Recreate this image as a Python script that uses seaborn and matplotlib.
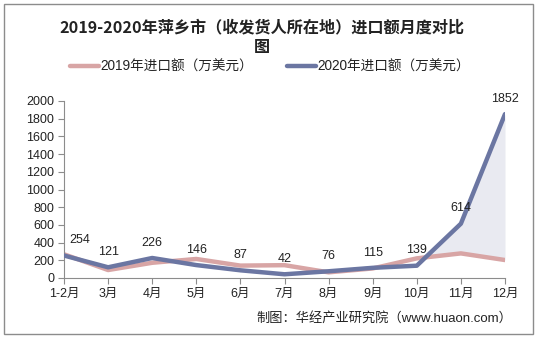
import matplotlib
matplotlib.use("Agg")
import matplotlib.pyplot as plt
import seaborn as sns
import pandas as pd
import numpy as np
from matplotlib.patches import Rectangle
from matplotlib.lines import Line2D

months = ["1-2月", "3月", "4月", "5月", "6月", "7月", "8月", "9月", "10月", "11月", "12月"]
imports_2019 = [268, 90, 172, 215, 140, 145, 64, 108, 222, 278, 203]
imports_2020 = [254, 121, 226, 146, 87, 42, 76, 115, 139, 614, 1852]
yticks = [0, 200, 400, 600, 800, 1000, 1200, 1400, 1600, 1800, 2000]

title = "2019-2020年萍乡市（收发货人所在地）进口额月度对比\n图"
label_2019 = "2019年进口额（万美元）"
label_2020 = "2020年进口额（万美元）"
source = "制图：华经产业研究院（www.huaon.com）"

sns.set_theme(style="white")
plt.rcParams["font.family"] = ["Liberation Sans", "Noto Sans CJK SC", "DejaVu Sans"]

c19 = "#D8A5A5"
c20 = "#6B76A2"

df = pd.DataFrame({
    "idx": list(range(len(months))) * 2,
    "value": imports_2019 + imports_2020,
    "series": [label_2019] * len(months) + [label_2020] * len(months),
})

fig = plt.figure(figsize=(5.36, 3.40), dpi=100, facecolor="white")
ax = fig.add_axes([64 / 536, 1 - 278 / 340, (505 - 64) / 536, (278 - 101) / 340])

x = np.arange(len(months))
y19 = np.array(imports_2019, dtype=float)
y20 = np.array(imports_2020, dtype=float)
mask = x >= 8
ax.fill_between(x, y19, y20, where=mask & (y20 >= y19), interpolate=True,
                color="#E9EAF1", linewidth=0, zorder=1)

sns.lineplot(data=df, x="idx", y="value", hue="series",
             palette={label_2019: c19, label_2020: c20},
             linewidth=3.2, ax=ax, legend=False, zorder=3)
for ln, z in zip(ax.lines, [2, 3]):
    ln.set_zorder(z)
    ln.set_solid_capstyle("round")
    ln.set_solid_joinstyle("round")

for i, v in enumerate(imports_2020):
    dx = 11 if i == 0 else 0
    ax.annotate(str(v), (i, v), xytext=(dx, 11), textcoords="offset points",
                ha="center", va="center", fontsize=9, color="#222222", zorder=5)

ax.set_xlim(0, len(months) - 1)
ax.set_ylim(0, 2000)
ax.set_yticks(yticks)
ax.set_yticklabels([str(t) for t in yticks], fontsize=9, color="#222222")
ax.set_xticks(x)
ax.set_xticklabels(months, fontsize=9, color="#222222")
ax.set_xlabel("")
ax.set_ylabel("")
for s in ["top", "right"]:
    ax.spines[s].set_visible(False)
for s in ["left", "bottom"]:
    ax.spines[s].set_color("#8C8C8C")
    ax.spines[s].set_linewidth(0.8)
ax.tick_params(axis="both", which="both", direction="out", length=4, width=0.8,
               color="#8C8C8C", pad=3, left=True, bottom=True)
ax.grid(False)

fig.text(262 / 536, 1 - 27 / 340, title.split("\n")[0], ha="center", va="center",
         fontsize=11.6, fontweight="bold", color="#222222",
         family=["Noto Sans CJK SC", "DejaVu Sans"])
fig.text(262 / 536, 1 - 47 / 340, title.split("\n")[1], ha="center", va="center",
         fontsize=11.6, fontweight="bold", color="#222222",
         family=["Noto Sans CJK SC", "DejaVu Sans"])

handles = [Line2D([0], [0], color=c19, lw=3.2), Line2D([0], [0], color=c20, lw=3.2)]
leg = fig.legend(handles, [label_2019, label_2020], loc="center",
                 bbox_to_anchor=(270 / 536, 1 - 67 / 340), ncol=2, frameon=False,
                 fontsize=9.8, handlelength=2.1, handletextpad=0.1, columnspacing=2.5)
for t in leg.get_texts():
    t.set_color("#222222")

fig.text(512 / 536, 1 - 318 / 340, source, ha="right", va="center", fontsize=9.5,
         color="#222222")

fig.patches.append(Rectangle((4 / 536, 1 - 334 / 340), (533 - 4) / 536, (334 - 4) / 340,
                             transform=fig.transFigure, fill=False,
                             edgecolor="#8C8C8C", linewidth=1))

fig.savefig("out.png", dpi=100, facecolor="white")
